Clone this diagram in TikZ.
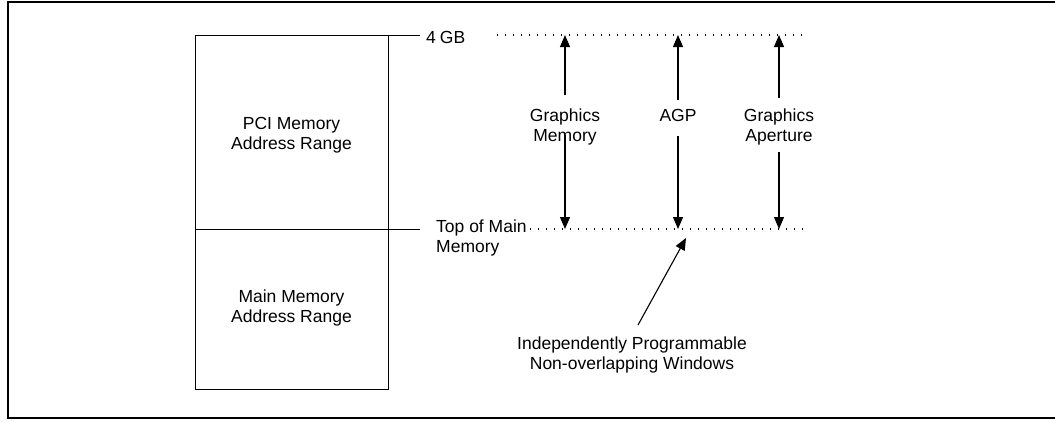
\documentclass[tikz,border=0pt]{standalone}
\usepackage{fontspec}
\setmainfont{Liberation Sans}
\usetikzlibrary{arrows.meta}
\begin{document}
\begin{tikzpicture}[x=1pt,y=-1pt,
  lbl/.style={font=\fontsize{17.5}{20.5}\selectfont, inner sep=0pt, align=center},
  region/.style={draw, line width=1pt, outer sep=0pt, inner sep=0pt, minimum width=193pt},
  tick/.style={line width=1pt},
  dotline/.style={line width=1.3pt, dash pattern=on 1.3pt off 6.7pt},
  arr/.style={line width=1.1pt, -{Triangle[length=12pt,width=10pt]}},
  ]
\useasboundingbox (0,0) rectangle (1055,421);
% frame
\draw[line width=2.5pt] (1056,2) -- (8,2) -- (8,418) -- (1056,418);
% memory map
\node[region, minimum height=194pt] (pcibox) at (291.5,132) {};
\node[region, minimum height=160pt] (mainbox) at (291.5,309) {};
\node[lbl] (pcitxt) at (291.5,135) {PCI Memory\\Address Range};
\node[lbl] (maintxt) at (291.5,308) {Main Memory\\Address Range};
% ticks
\coordinate (topend) at (420,35);
\coordinate (tomend) at (420,229);
\draw[tick] (pcibox.north east) -- (topend);
\draw[tick] (pcibox.south east) -- (tomend);
% level labels
\node[lbl, anchor=west] (gb4) at (426,37) {4\hspace{4pt}GB};
\node[lbl, anchor=west, align=left] (tom) at (436,238) {Top of Main\\Memory};
% dotted levels
\coordinate (d1a) at (497,35);
\coordinate (d1b) at (805,35);
\coordinate (d2a) at (530,229);
\coordinate (d2b) at (807,229);
\draw[dotline] (d1a) -- (d1b);
\draw[dotline] (d2a) -- (d2b);
% window labels
\node[lbl] (gm) at (565,127) {Graphics\\Memory};
\node[lbl] (agp) at (678,115) {AGP};
\node[lbl] (ga) at (779,127) {Graphics\\Aperture};
% arrow end points
\coordinate (gmT) at (565,35);
\coordinate (gmB) at (565,229);
\coordinate (gmU) at (565,95);
\coordinate (gmD) at (565,135);
\coordinate (agT) at (678,35);
\coordinate (agB) at (678,229);
\coordinate (agU) at (678,100);
\coordinate (agD) at (678,136);
\coordinate (gaT) at (779,35);
\coordinate (gaB) at (779,229);
\coordinate (gaU) at (779,98);
\coordinate (gaD) at (779,152);
\draw[arr] (gmU) -- (gmT);
\draw[arr] (gmD) -- (gmB);
\draw[arr] (agU) -- (agT);
\draw[arr] (agD) -- (agB);
\draw[arr] (gaU) -- (gaT);
\draw[arr] (gaD) -- (gaB);
% independent windows
\node[lbl] (ipw) at (632,355) {Independently Programmable\\Non-overlapping Windows};
\coordinate (ipwS) at (638,325);
\coordinate (ipwT) at (686,238);
\draw[arr] (ipwS) -- (ipwT);
\end{tikzpicture}
\end{document}
